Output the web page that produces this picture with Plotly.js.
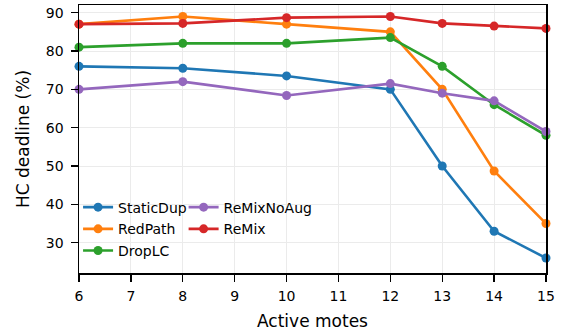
<!DOCTYPE html>
<html>
<head>
<meta charset="utf-8">
<script src="https://cdn.plot.ly/plotly-3.0.1.min.js"></script>
<style>html,body{margin:0;padding:0;background:#fff;}#chart{width:566px;height:334px;}</style>
</head>
<body>
<div id="chart"></div>
<script>
const motes = [6, 8, 10, 12, 13, 14, 15];
const staticDup = [76, 75.5, 73.5, 70, 50, 33, 26];
const redPath = [87, 89, 87, 85, 70, 48.7, 35];
const dropLC = [81, 82, 82, 83.5, 76, 66, 58];
const reMixNoAug = [70, 72, 68.4, 71.5, 69, 67, 59];
const reMix = [87, 87.2, 88.7, 89, 87.2, 86.5, 85.9];
const xTicks = [6, 7, 8, 9, 10, 11, 12, 13, 14, 15];
const yTicks = [30, 40, 50, 60, 70, 80, 90];

const series = [
  {name: 'StaticDup', y: staticDup, color: '#1f77b4', legend: 'legend', rank: 1},
  {name: 'RedPath', y: redPath, color: '#ff7f0e', legend: 'legend', rank: 2},
  {name: 'DropLC', y: dropLC, color: '#2ca02c', legend: 'legend', rank: 3},
  {name: 'ReMixNoAug', y: reMixNoAug, color: '#9467bd', legend: 'legend2', rank: 4},
  {name: 'ReMix', y: reMix, color: '#d62728', legend: 'legend2', rank: 5}
];

const traces = series.map(s => ({
  x: motes, y: s.y, name: s.name, type: 'scatter', mode: 'lines+markers',
  line: {color: s.color, width: 2.6},
  marker: {color: s.color, size: 9},
  legend: s.legend, legendgroup: s.name, legendrank: s.rank, cliponaxis: false
}));

const font = {family: 'DejaVu Sans', size: 14, color: '#000'};
const titleFont = {family: 'DejaVu Sans', size: 17, color: '#000'};
const legendBase = {
  bgcolor: 'rgba(0,0,0,0)', borderwidth: 0, font: {family: 'DejaVu Sans', size: 14, color: '#000'},
  yanchor: 'top', xanchor: 'left', tracegroupgap: 0.5, itemwidth: 30
};

const layout = {
  width: 566, height: 334,
  margin: {l: 79, r: 19.5, t: 5, b: 61},
  paper_bgcolor: '#fff', plot_bgcolor: '#fff',
  font: font,
  showlegend: true,
  xaxis: {
    range: [6, 15], tickvals: xTicks, ticktext: xTicks.map(String),
    showgrid: true, gridcolor: '#ebebeb', gridwidth: 1,
    showline: true, linecolor: '#000', linewidth: 1.5, mirror: true,
    ticks: 'outside', ticklen: 7, tickwidth: 1.3, tickcolor: '#000',
    ticklabelstandoff: 3,
    zeroline: false, tickfont: font,
    title: {text: 'Active motes', font: titleFont, standoff: 12}
  },
  yaxis: {
    range: [22.1, 92.0], tickvals: yTicks, ticktext: yTicks.map(String),
    showgrid: true, gridcolor: '#ebebeb', gridwidth: 1,
    showline: true, linecolor: '#000', linewidth: 1.5, mirror: true,
    ticks: 'outside', ticklen: 7, tickwidth: 1.3, tickcolor: '#000',
    ticklabelstandoff: 4,
    zeroline: false, tickfont: font,
    title: {text: 'HC deadline (%)', font: titleFont, standoff: 12}
  },
  legend: Object.assign({}, legendBase, {x: -0.002, y: 0.304}),
  legend2: Object.assign({}, legendBase, {x: 0.224, y: 0.304})
};

Plotly.newPlot('chart', traces, layout, {displayModeBar: false, staticPlot: true});
</script>
</body>
</html>
